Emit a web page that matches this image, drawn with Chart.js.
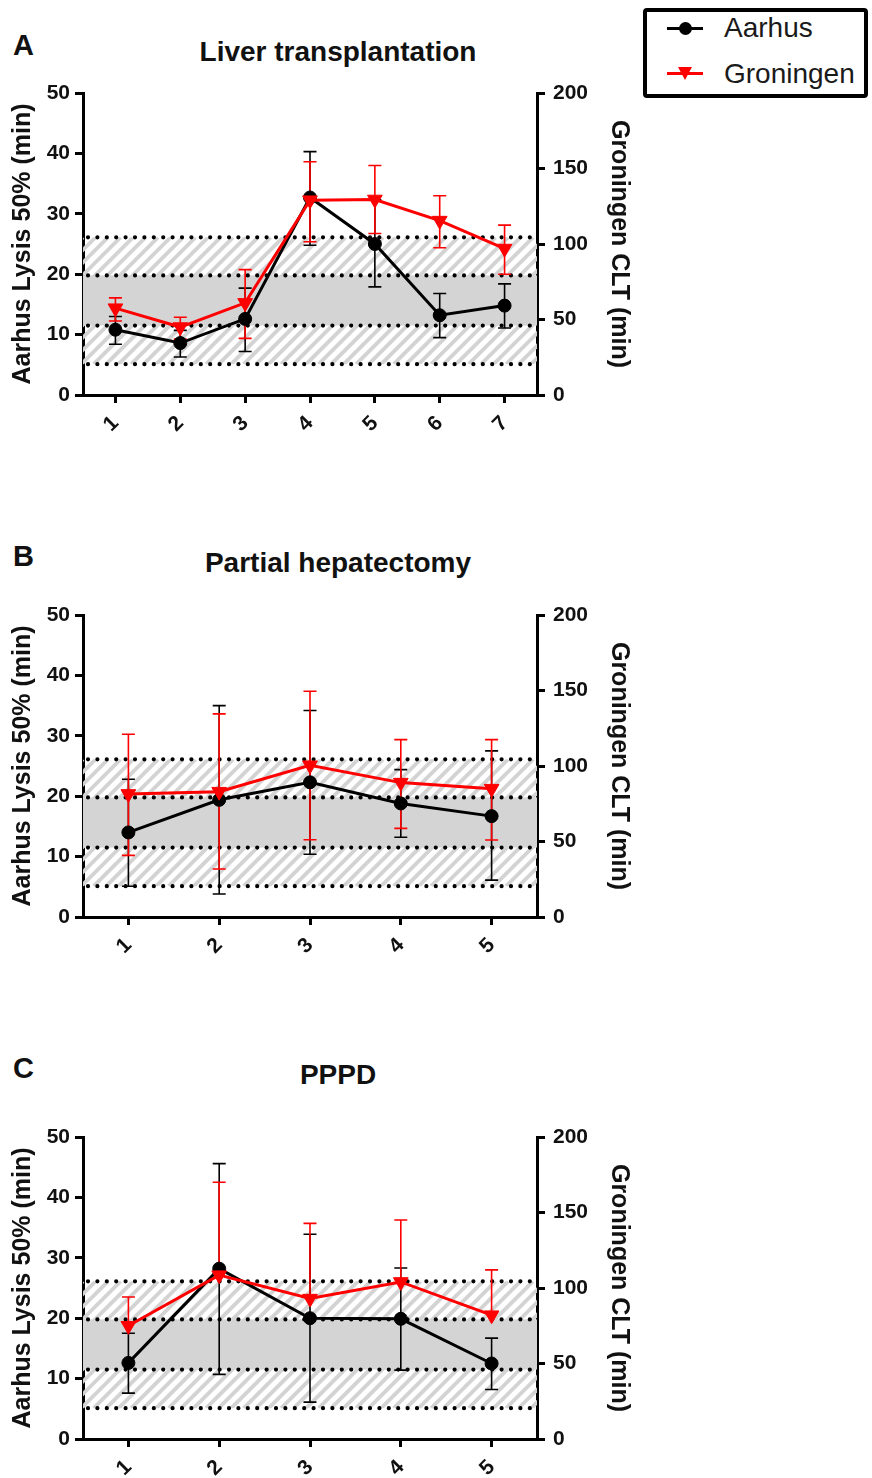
<!DOCTYPE html>
<html>
<head>
<meta charset="utf-8">
<script src="https://cdn.jsdelivr.net/npm/chart.js@4.4.1/dist/chart.umd.min.js"></script>
<style>
  html, body { margin: 0; padding: 0; background: #fff; }
  body { position: relative; width: 872px; height: 1478px; overflow: hidden; font-family: 'Liberation Sans', Arial, sans-serif; color: #111; }
  canvas { position: absolute; left: 0; }
  .letter { position: absolute; left: 13px; font-size: 29px; line-height: 30px; font-weight: bold; }
  .title { position: absolute; left: 0; width: 676px; text-align: center; font-size: 28px; line-height: 28px; font-weight: bold; }
  #legend { position: absolute; left: 643px; top: 8px; width: 225px; height: 90px; box-sizing: border-box; border: 4px solid #000; border-radius: 4px; background: #fff; }
  #legend .txt { position: absolute; left: 77px; font-size: 28px; line-height: 28px; color: #1a1a1a; }
  #legend .ln { position: absolute; left: 20px; width: 36px; height: 3px; }
  #legend .dot { position: absolute; left: 31.5px; top: 9.5px; width: 13px; height: 13px; border-radius: 50%; background: #000; }
  #legend .tri { position: absolute; left: 30.5px; top: 55px; width: 0; height: 0; border-left: 7.5px solid transparent; border-right: 7.5px solid transparent; border-top: 13px solid #ff0000; }
</style>
</head>
<body>
<div class="letter" style="top:30px">A</div>
<div class="title" style="top:38px">Liver transplantation</div>
<div class="letter" style="top:541px">B</div>
<div class="title" style="top:549px">Partial hepatectomy</div>
<div class="letter" style="top:1053px">C</div>
<div class="title" style="top:1061px">PPPD</div>

<canvas id="chartA" width="660" height="470" style="top:0px"></canvas>
<canvas id="chartB" width="660" height="470" style="top:522px"></canvas>
<canvas id="chartC" width="660" height="470" style="top:1044px"></canvas>

<div id="legend">
  <div class="ln" style="top:14.5px; background:#000"></div>
  <div class="dot"></div>
  <div class="txt" style="top:2px">Aarhus</div>
  <div class="ln" style="top:59.5px; background:#ff0000"></div>
  <div class="tri"></div>
  <div class="txt" style="top:48px">Groningen</div>
</div>

<script>
// reference range (Aarhus units): hatched outer band and grey inner band
var bandOuter = [5.1, 26.1];
var bandInner = [11.5, 19.8];

// A - liver transplantation
var labelsA = ['1', '2', '3', '4', '5', '6', '7'];
var aarhusA = [10.8, 8.6, 12.6, 32.7, 25.0, 13.2, 14.8];
var aarhusLowA = [8.4, 6.3, 7.2, 24.8, 17.9, 9.5, 11.1];
var aarhusHighA = [13.0, 10.7, 17.7, 40.3, 32.3, 16.8, 18.4];
var groningenA = [57.5, 45, 61, 129, 129.5, 115.5, 97];
var groningenLowA = [49, 37, 37.5, 101.5, 107, 97.5, 80];
var groningenHighA = [64.3, 51.5, 83, 154.5, 152, 132, 112.5];

// B - partial hepatectomy
var labelsB = ['1', '2', '3', '4', '5'];
var aarhusB = [14.0, 19.4, 22.3, 18.8, 16.7];
var aarhusLowB = [5.1, 3.8, 10.4, 13.2, 6.1];
var aarhusHighB = [22.8, 35.0, 34.2, 24.4, 27.5];
var groningenB = [81.5, 83, 100.5, 89, 85];
var groningenLowB = [40.8, 31.8, 51.2, 58.7, 51];
var groningenHighB = [121, 134.5, 149.5, 117.5, 117.5];

// C - PPPD
var labelsC = ['1', '2', '3', '4', '5'];
var aarhusC = [12.6, 28.2, 20.0, 19.9, 12.5];
var aarhusLowC = [7.6, 10.7, 6.1, 11.4, 8.2];
var aarhusHighC = [17.5, 45.6, 33.9, 28.3, 16.7];
var groningenC = [75, 108.5, 93, 104, 82];
var groningenLowC = [75, 108.5, 93, 104, 82];
var groningenHighC = [94, 170, 142.8, 145, 112];

var tickFont = { family: 'Liberation Sans', size: 21, weight: 'bold' };
var titleFont = { family: 'Liberation Sans', size: 25, weight: 'bold' };
var ink = '#111';

var bandsAndErrors = {
    id: 'bandsAndErrors',
    beforeDatasetsDraw: function (chart) {
        var ctx = chart.ctx;
        var a = chart.chartArea;
        var y = chart.scales.y;

        // hatched outer band
        var top = y.getPixelForValue(bandOuter[1]);
        var bottom = y.getPixelForValue(bandOuter[0]);
        var h = bottom - top;
        ctx.save();
        ctx.beginPath();
        ctx.rect(a.left, top, a.right - a.left, h);
        ctx.clip();
        ctx.strokeStyle = '#d3d3d3';
        ctx.lineWidth = 3.8;
        for (var x = a.left - h; x < a.right + h; x += 12.5) {
            ctx.beginPath();
            ctx.moveTo(x, bottom);
            ctx.lineTo(x + h, top);
            ctx.stroke();
        }
        ctx.restore();

        // grey inner band
        var iTop = y.getPixelForValue(bandInner[1]);
        var iBottom = y.getPixelForValue(bandInner[0]);
        ctx.fillStyle = '#d4d4d4';
        ctx.fillRect(a.left, iTop, a.right - a.left, iBottom - iTop);

        // dotted limits
        ctx.save();
        ctx.strokeStyle = '#000';
        ctx.lineWidth = 4.2;
        ctx.lineCap = 'round';
        ctx.setLineDash([0, 9.4]);
        bandOuter.concat(bandInner).forEach(function (v) {
            var py = y.getPixelForValue(v);
            ctx.beginPath();
            ctx.moveTo(a.left + 5, py);
            ctx.lineTo(a.right, py);
            ctx.stroke();
        });
        ctx.restore();

        // error bars
        chart.data.datasets.forEach(function (ds, i) {
            var meta = chart.getDatasetMeta(i);
            var scale = chart.scales[ds.yAxisID];
            ctx.save();
            ctx.strokeStyle = ds.borderColor;
            ctx.lineWidth = 1.6;
            meta.data.forEach(function (pt, j) {
                var lo = scale.getPixelForValue(ds.errLow[j]);
                var hi = scale.getPixelForValue(ds.errHigh[j]);
                ctx.beginPath();
                ctx.moveTo(pt.x, lo);
                ctx.lineTo(pt.x, hi);
                if (ds.errLow[j] !== ds.data[j]) {
                    ctx.moveTo(pt.x - 6.5, lo);
                    ctx.lineTo(pt.x + 6.5, lo);
                }
                ctx.moveTo(pt.x - 6.5, hi);
                ctx.lineTo(pt.x + 6.5, hi);
                ctx.stroke();
            });
            ctx.restore();
        });
    }
};

function axisGrid() {
    return { drawOnChartArea: false, drawTicks: true, tickLength: 8, lineWidth: 3, color: '#000' };
}

function makePanel(id, labels, aarhus, aLow, aHigh, gron, gLow, gHigh) {
    var ctx = document.getElementById(id).getContext('2d');
    return new Chart(ctx, {
        type: 'line',
        data: {
            labels: labels,
            datasets: [{
                label: 'Aarhus',
                data: aarhus,
                errLow: aLow,
                errHigh: aHigh,
                yAxisID: 'y',
                order: 1,
                borderColor: '#000',
                backgroundColor: '#000',
                borderWidth: 3,
                pointStyle: 'circle',
                pointRadius: 6.5,
                pointBorderWidth: 1,
                tension: 0
            }, {
                label: 'Groningen',
                data: gron,
                errLow: gLow,
                errHigh: gHigh,
                yAxisID: 'y2',
                order: 0,
                borderColor: '#ff0000',
                backgroundColor: '#ff0000',
                borderWidth: 3,
                pointStyle: 'triangle',
                pointRotation: 180,
                pointRadius: 8.5,
                pointBorderWidth: 1,
                tension: 0
            }]
        },
        options: {
            responsive: false,
            animation: false,
            layout: { padding: { top: 93, left: 0, right: 0, bottom: 15 } },
            plugins: {
                legend: { display: false },
                tooltip: { enabled: false }
            },
            scales: {
                x: {
                    offset: true,
                    grid: axisGrid(),
                    border: { color: '#000', width: 3 },
                    ticks: { font: tickFont, color: ink, minRotation: 45, maxRotation: 45, autoSkip: false, padding: 8 },
                    afterFit: function (s) { s.height = 60; }
                },
                y: {
                    position: 'left',
                    min: 0,
                    max: 50,
                    grid: axisGrid(),
                    border: { color: '#000', width: 3 },
                    ticks: { stepSize: 10, font: tickFont, color: ink, padding: 5 },
                    title: { display: true, text: 'Aarhus Lysis 50% (min)', font: titleFont, color: ink, padding: { top: 8, bottom: 0 } },
                    afterFit: function (s) { s.width = 83; }
                },
                y2: {
                    position: 'right',
                    min: 0,
                    max: 200,
                    grid: axisGrid(),
                    border: { color: '#000', width: 3 },
                    ticks: { stepSize: 50, font: tickFont, color: ink, padding: 8 },
                    title: { display: true, text: 'Groningen CLT (min)', font: titleFont, color: ink, padding: { top: 26, bottom: 0 } },
                    afterFit: function (s) { s.width = 123; }
                }
            }
        },
        plugins: [bandsAndErrors]
    });
}

makePanel('chartA', labelsA, aarhusA, aarhusLowA, aarhusHighA, groningenA, groningenLowA, groningenHighA);
makePanel('chartB', labelsB, aarhusB, aarhusLowB, aarhusHighB, groningenB, groningenLowB, groningenHighB);
makePanel('chartC', labelsC, aarhusC, aarhusLowC, aarhusHighC, groningenC, groningenLowC, groningenHighC);
</script>
</body>
</html>
